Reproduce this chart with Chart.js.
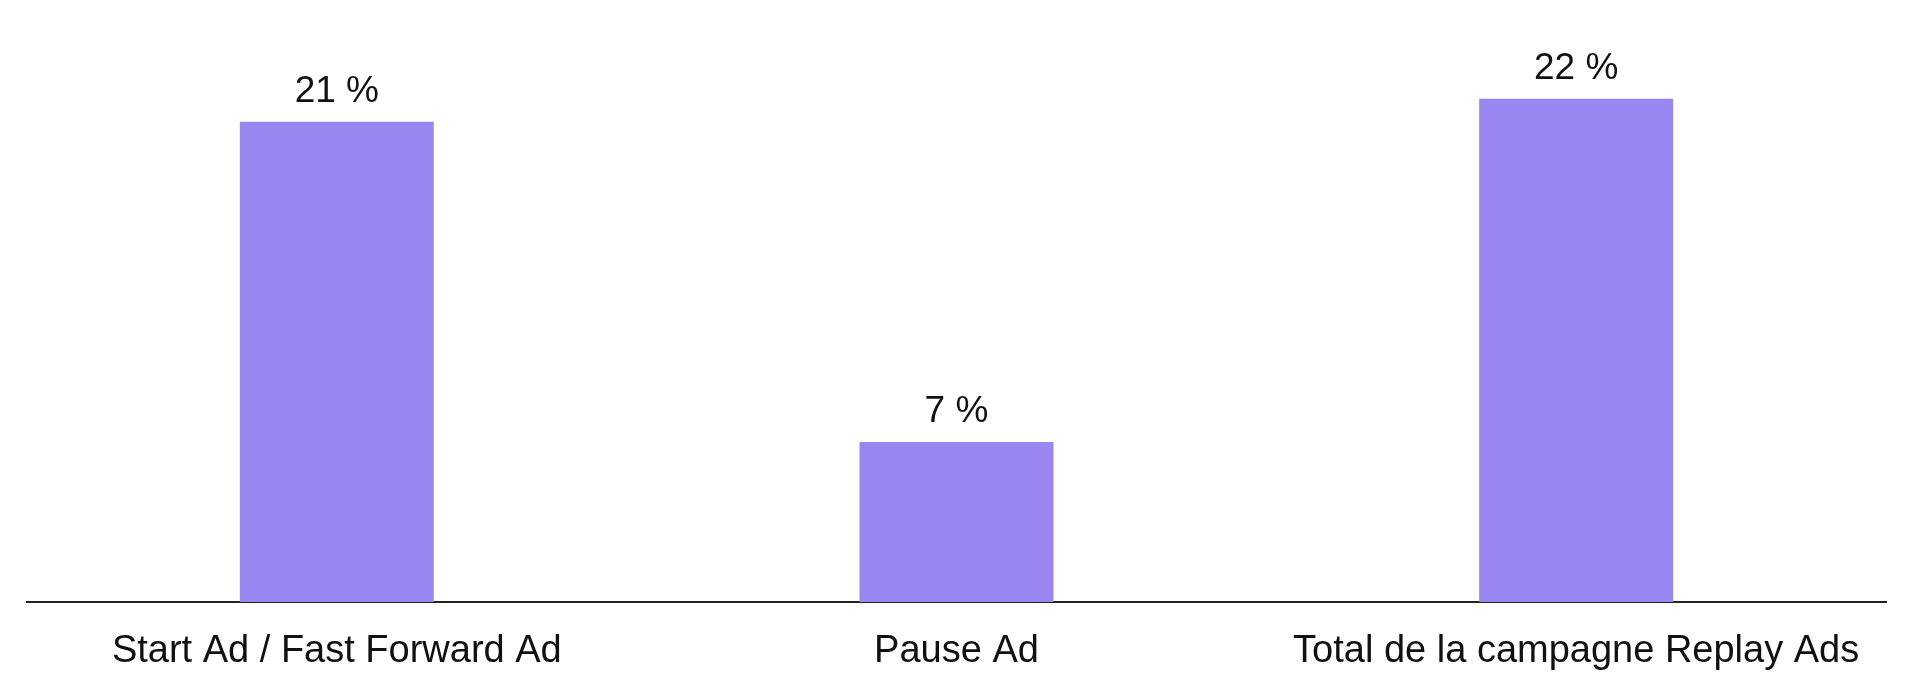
<!DOCTYPE html>
<html>
<head>
<meta charset="utf-8">
<script src="https://cdn.jsdelivr.net/npm/chart.js@4/dist/chart.umd.min.js"></script>
<style>
html, body { margin: 0; padding: 0; background: #fff; }
#wrap { width: 1920px; height: 695px; }
</style>
</head>
<body>
<div id="wrap"><canvas id="barChart"></canvas></div>
<script>
const categories = ['Start Ad / Fast Forward Ad', 'Pause Ad', 'Total de la campagne Replay Ads']
const values = [21, 7, 22]

const fontFamily = '"Liberation Sans", Arial, sans-serif'

// draw "xx %" above each bar
const valueLabels = {
  id: 'valueLabels',
  afterDatasetsDraw(chart) {
    const ctx = chart.ctx
    const meta = chart.getDatasetMeta(0)
    ctx.save()
    ctx.font = '37px ' + fontFamily
    ctx.fillStyle = '#111'
    ctx.textAlign = 'center'
    ctx.textBaseline = 'alphabetic'
    meta.data.forEach((bar, i) => {
      ctx.fillText(values[i] + ' %', bar.x, bar.y - 20)
    })
    ctx.restore()
  }
}

const ctx = document.getElementById('barChart').getContext('2d')

new Chart(ctx, {
  type: 'bar',
  data: {
    labels: categories,
    datasets: [{
      data: values,
      backgroundColor: '#9a86f0',
      borderWidth: 0,
      categoryPercentage: 1,
      barPercentage: 0.313
    }]
  },
  options: {
    responsive: true,
    maintainAspectRatio: false,
    animation: false,
    layout: { padding: { left: 27, right: 34, top: 53, bottom: 0 } },
    plugins: {
      legend: { display: false },
      tooltip: { enabled: false }
    },
    scales: {
      x: {
        grid: { display: false, drawTicks: false },
        border: { display: true, color: '#222', width: 2 },
        ticks: {
          color: '#111',
          padding: 27,
          font: { family: fontFamily, size: 38 },
          maxRotation: 0,
          autoSkip: false
        },
        afterFit(scale) {
          scale.height = 93
        }
      },
      y: {
        display: false,
        min: 0,
        max: 24
      }
    }
  },
  plugins: [valueLabels]
})
</script>
</body>
</html>
